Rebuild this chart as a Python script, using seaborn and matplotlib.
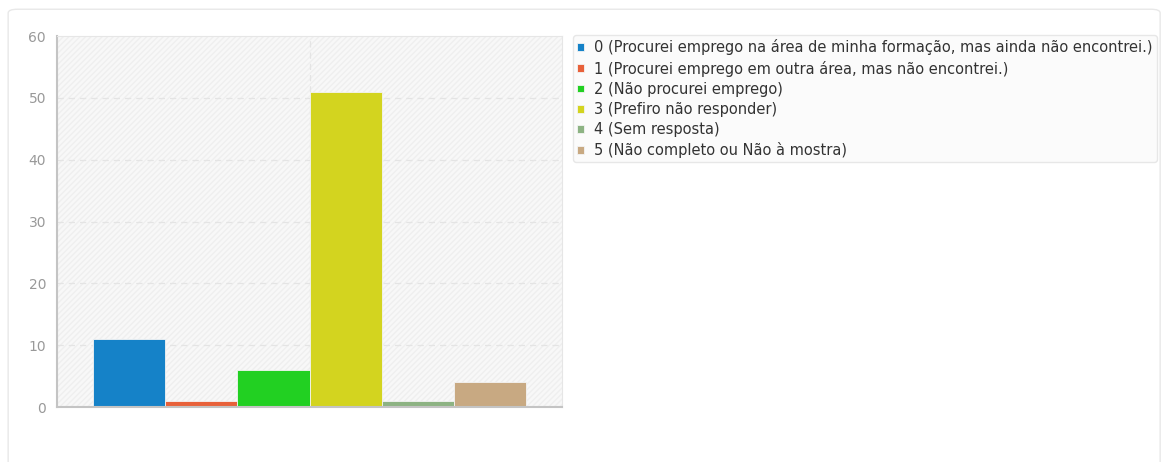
import matplotlib
matplotlib.use('Agg')
import matplotlib.pyplot as plt
from matplotlib.patches import FancyBboxPatch, Rectangle
import seaborn as sns
import pandas as pd

# data
codes = ['0', '1', '2', '3', '4', '5']
labels = [
    '0 (Procurei emprego na área de minha formação, mas ainda não encontrei.)',
    '1 (Procurei emprego em outra área, mas não encontrei.)',
    '2 (Não procurei emprego)',
    '3 (Prefiro não responder)',
    '4 (Sem resposta)',
    '5 (Não completo ou Não à mostra)',
]
counts = [11, 1, 6, 51, 1, 4]
colors = ['#1582c8', '#e8613a', '#22d022', '#d3d41f', '#8db383', '#c8a982']
yticks = [0, 10, 20, 30, 40, 50, 60]

df = pd.DataFrame({'code': codes, 'label': labels, 'count': counts})

sns.set_style('white')
plt.rcParams['font.family'] = ['DejaVu Sans']

fig = plt.figure(figsize=(11.66, 4.62), dpi=100)

# outer card
card = FancyBboxPatch((0.007, -0.05), 0.988, 1.03, transform=fig.transFigure,
                      boxstyle='round,pad=0,rounding_size=0.008',
                      facecolor='white', edgecolor='#e8e8e8', linewidth=1,
                      zorder=-10)
fig.patches.append(card)

ax = fig.add_axes([0.049, 0.119, 0.433, 0.803])
ax.set_facecolor('#f8f8f8')
ax.add_patch(Rectangle((0, 0), 1, 1, transform=ax.transAxes, facecolor='none',
                       edgecolor='#efefef', hatch='//////', linewidth=0, zorder=0))

sns.barplot(data=df, x='code', y='count', hue='label', palette=colors,
            width=1, dodge=False, saturation=1, legend=True, ax=ax, zorder=2,
            edgecolor='#f4f4f4', linewidth=0.6)

ax.set_xlim(-1.0, 6.0)
ax.set_ylim(0, 60)
ax.set_yticks(yticks)
ax.set_xticks([])
ax.set_xlabel('')
ax.set_ylabel('')
ax.tick_params(axis='y', colors='#bbbbbb', labelcolor='#999999', labelsize=10,
               length=5, width=1, direction='out', pad=3)

for y in yticks[1:-1]:
    ax.axhline(y, color='#e4e4e4', linestyle=(0, (5, 4)), linewidth=0.9, zorder=1)
ax.axvline(2.5, color='#e4e4e4', linestyle=(0, (5, 4)), linewidth=0.9, zorder=1)

for side in ['top', 'right']:
    ax.spines[side].set_color('#e6e6e6')
for side in ['left', 'bottom']:
    ax.spines[side].set_color('#c4c4c4')
    ax.spines[side].set_linewidth(1.5)

handles, texts = ax.get_legend_handles_labels()
ax.get_legend().remove()
leg = fig.legend(handles, texts, loc='upper left', bbox_to_anchor=(0.4914, 0.924),
                 borderaxespad=0, frameon=True, fontsize=10.5,
                 handlelength=0.45, handleheight=0.45,
                 handletextpad=0.7, labelspacing=0.35, borderpad=0.3,
                 fancybox=True)
leg.get_frame().set_edgecolor('#e2e2e2')
leg.get_frame().set_facecolor('#fafafa')
for t in leg.get_texts():
    t.set_color('#333333')

fig.savefig('out.png', dpi=100)
